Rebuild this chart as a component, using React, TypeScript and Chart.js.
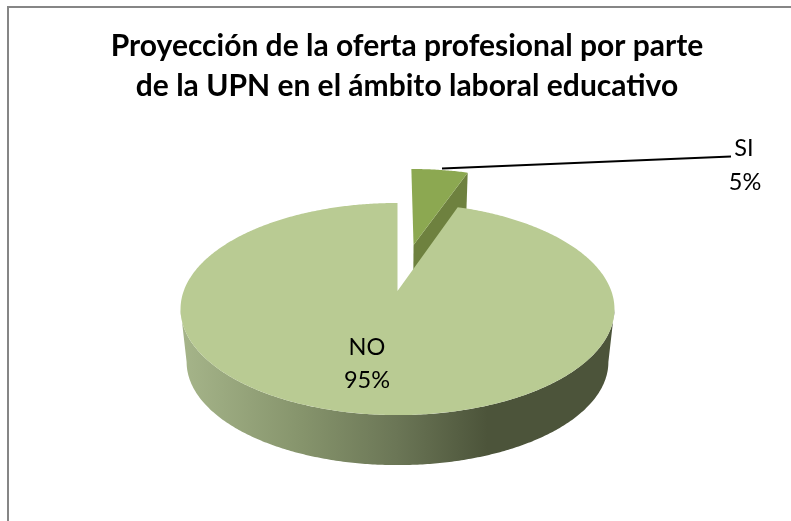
import React, { useEffect, useRef } from "react";
import { Chart, registerables } from "chart.js";

Chart.register(...registerables);

const titleLines = [
  "Proyección de la oferta profesional por parte",
  "de la UPN en el ámbito laboral educativo",
];
const categories = ["SI", "NO"];
const values = [5.3, 94.7];
const explosion = [0.49, 0];
const topColors = ["#8CA851", "#B9CB93"];
const cutColors = ["#6E813F", "#6E813F"];
const wallStops: [number, string][] = [
  [0, "#A6B58A"],
  [0.28, "#86946C"],
  [0.5, "#6B7656"],
  [0.71, "#4C543A"],
  [1, "#4C543A"],
];

const FONT = "Lato, Carlito, sans-serif";
const cx = 397.5;
const cy = 291;
const R = 213.8;
const Ry = 103;
const K = 0.17;
const DEPTH = 53.5;
const SHRINK = 0.028;

function project(u: number, v: number, z: number): [number, number] {
  const s = (1 / (1 + K * v)) * (1 - SHRINK * z);
  return [cx + R * u * s, cy + z * DEPTH - Ry * v * s];
}

const threeD = {
  id: "threeD",
  beforeDraw(chart: any) {
    const { ctx } = chart;
    ctx.save();
    ctx.strokeStyle = "#868686";
    ctx.lineWidth = 2;
    ctx.beginPath();
    ctx.moveTo(8, chart.height + 2);
    ctx.lineTo(8, 7);
    ctx.lineTo(chart.width + 2, 7);
    ctx.stroke();
    ctx.restore();
  },
  beforeDatasetsDraw(chart: any) {
    const { ctx } = chart;
    const meta = chart.getDatasetMeta(0);
    const pt = (a: number, ou: number, ov: number, z: number) =>
      project(ou + Math.sin(a + Math.PI / 2), ov + Math.cos(a + Math.PI / 2), z);

    const arcs = meta.data.map((el: any, i: number) => {
      const { startAngle, endAngle } = el.getProps(["startAngle", "endAngle"], true);
      const mid = (startAngle + endAngle) / 2 + Math.PI / 2;
      const ou = explosion[i] * Math.sin(mid);
      const ov = explosion[i] * Math.cos(mid);
      return { startAngle, endAngle, ou, ov, i };
    });

    const poly = (pts: [number, number][], fill: any) => {
      ctx.beginPath();
      pts.forEach((p, j) => (j ? ctx.lineTo(p[0], p[1]) : ctx.moveTo(p[0], p[1])));
      ctx.closePath();
      ctx.fillStyle = fill;
      ctx.fill();
    };

    const rim = (a: any, z: number, from = a.startAngle, to = a.endAngle) => {
      const pts: [number, number][] = [];
      const n = Math.max(4, Math.ceil(Math.abs(to - from) / 0.01));
      for (let j = 0; j <= n; j++) pts.push(pt(from + ((to - from) * j) / n, a.ou, a.ov, z));
      return pts;
    };

    // the exploded slice goes first, so the large slice covers it
    arcs.forEach((a: any) => {
      const apexTop = project(a.ou, a.ov, 0);
      const apexBottom = project(a.ou, a.ov, 1);
      if (a.i === 0) {
        const endTop = pt(a.endAngle, a.ou, a.ov, 0);
        const endBottom = pt(a.endAngle, a.ou, a.ov, 1);
        poly([apexTop, endTop, endBottom, apexBottom], cutColors[a.i]);
      } else {
        const g = ctx.createLinearGradient(180, 0, 613, 0);
        wallStops.forEach(([o, c]) => g.addColorStop(o, c));
        // front of the wall, between the two tangent points of the rim
        const t = Math.acos(-K);
        const from = t - Math.PI / 2;
        const to = Math.PI * 2 - t - Math.PI / 2;
        const top = rim(a, 0, from, to);
        const bottom = rim(a, 1, from, to).reverse();
        poly([...top, ...bottom], g);
      }
      poly([apexTop, ...rim(a, 0)], topColors[a.i]);
    });

    // leader line and data labels
    ctx.save();
    ctx.strokeStyle = "#000000";
    ctx.lineWidth = 2;
    ctx.beginPath();
    ctx.moveTo(442, 168.5);
    ctx.lineTo(731, 156.5);
    ctx.stroke();
    ctx.fillStyle = "#000000";
    ctx.font = `23.5px ${FONT}`;
    ctx.textAlign = "center";
    ctx.textBaseline = "middle";
    const total = values.reduce((s, x) => s + x, 0);
    const spots: [number, number, number, number][] = [
      [744, 148, 745, 182],
      [367, 347, 367, 380],
    ];
    categories.forEach((c, i) => {
      const [x1, y1, x2, y2] = spots[i];
      ctx.fillText(c, x1, y1);
      ctx.fillText(`${Math.round((values[i] / total) * 100)}%`, x2, y2);
    });
    ctx.restore();
    return false;
  },
};

export default function App() {
  const ref = useRef<HTMLCanvasElement>(null);
  useEffect(() => {
    const chart = new Chart(ref.current as HTMLCanvasElement, {
      type: "pie",
      data: {
        labels: categories,
        datasets: [{ data: values, backgroundColor: topColors, borderWidth: 0 }],
      },
      plugins: [threeD],
      options: {
        animation: false,
        responsive: false,
        plugins: {
          legend: { display: false },
          tooltip: { enabled: false },
          title: {
            display: true,
            text: titleLines,
            color: "#000000",
            font: { family: FONT, size: 30, weight: "bold", lineHeight: 1.333 },
            padding: { top: 26, bottom: 10 },
          },
        },
      },
    } as any);
    return () => chart.destroy();
  }, []);
  return (
    <div style={{ position: "absolute", left: 0, top: 0, width: 791, height: 521, overflow: "hidden", background: "#fff" }}>
      <canvas ref={ref} width={814} height={521} style={{ display: "block" }} />
    </div>
  );
}
